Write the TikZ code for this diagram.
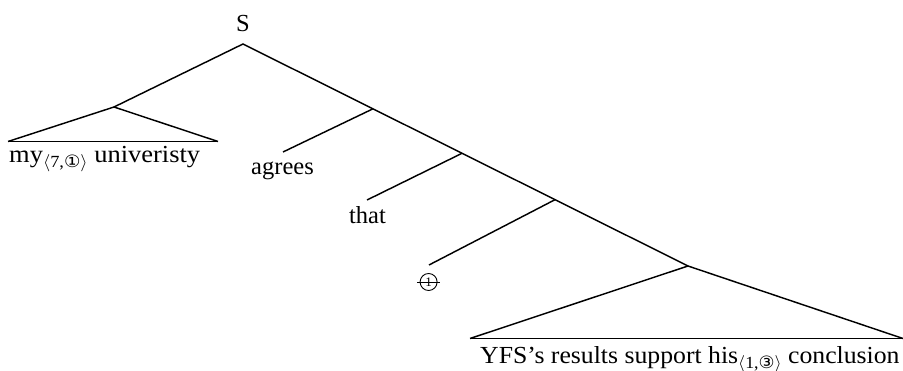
\documentclass[tikz,border=0pt]{standalone}
\usepackage{fontspec}
\setmainfont{Liberation Serif}
\newfontfamily\symfont{DejaVu Sans}
\newcommand\subtxt[1]{\raisebox{-0.4ex}{\fontsize{17}{17}\selectfont #1}}
\begin{document}
\begin{tikzpicture}[x=1pt,y=-1pt,
  edge/.style={line width=1.45pt},
  base/.style={line width=1.2pt},
  lbl/.style={font=\fontsize{24.5}{28}\selectfont, inner sep=0pt, anchor=base}]
\useasboundingbox (0,0) rectangle (903,371);
% branch points
\coordinate (root) at (243,44);
\coordinate (np1) at (114,107);
\coordinate (n1) at (373,108.8);
\coordinate (n2) at (462,153.3);
\coordinate (n3) at (555,199.7);
\coordinate (np2) at (688,266);
\coordinate (t1l) at (8,141.5);
\coordinate (t1r) at (218,141.5);
\coordinate (t2l) at (470,338.5);
\coordinate (t2r) at (903,338.5);
\coordinate (e1) at (283,152);
\coordinate (e2) at (367,200);
\coordinate (e3) at (429,265);
% labels
\node[lbl] (S) at (243,32) {S};
\node[lbl, anchor=base west] (myu) at (9,163) {\scalebox{1.08}[1]{my\subtxt{$\langle$7,{\symfont ①}$\rangle$} univeristy}};
\node[lbl] (agr) at (282.5,175) {agrees};
\node[lbl] (that) at (367.5,224) {that};
\node[lbl, anchor=base west] (yfs) at (480,364) {\scalebox{1.05}[1]{YFS’s results support his\subtxt{$\langle$1,{\symfont ③}$\rangle$} conclusion}};
\node[draw, circle, line width=0.9pt, minimum size=17pt, inner sep=0pt, font=\fontsize{13}{13}\selectfont] (pro) at (428.6,282) {1};
\draw[line width=0.9pt] ([xshift=-2.5pt]pro.west) -- ([xshift=2.5pt]pro.east);
% edges
\draw[edge] (np1) -- (root) -- (np2);
\draw[edge] (t1l) -- (np1) -- (t1r);
\draw[base] (t1l) -- (t1r);
\draw[edge] (t2l) -- (np2) -- (t2r);
\draw[base] (t2l) -- (t2r);
\draw[edge] (n1) -- (e1);
\draw[edge] (n2) -- (e2);
\draw[edge] (n3) -- (e3);
\end{tikzpicture}
\end{document}
